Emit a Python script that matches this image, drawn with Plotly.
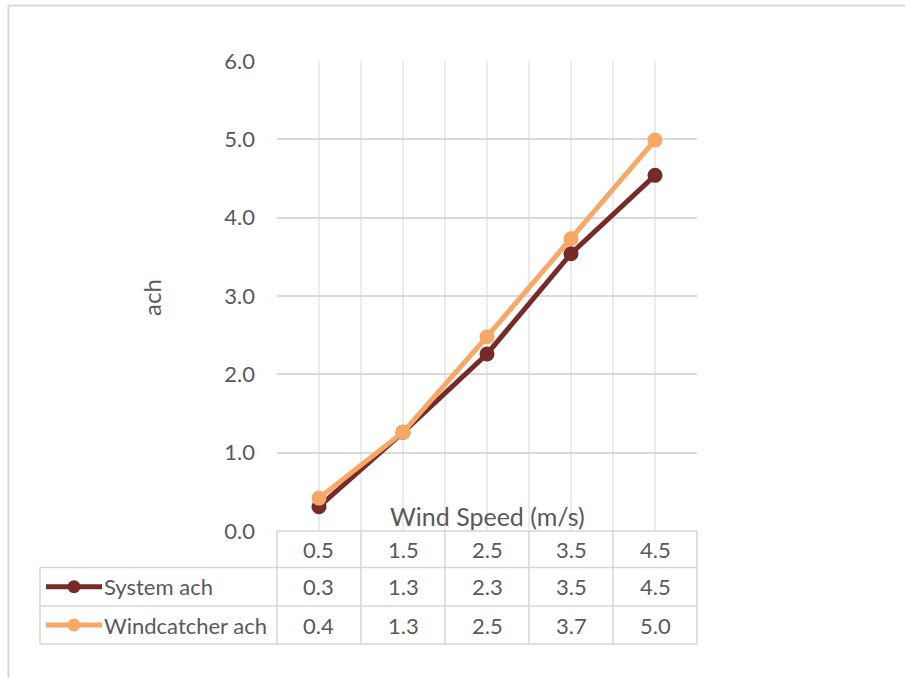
import plotly.graph_objects as go

# Data
wind_speeds = ["0.5", "1.5", "2.5", "3.5", "4.5"]
system_ach = [0.31, 1.26, 2.26, 3.54, 4.54]
windcatcher_ach = [0.42, 1.26, 2.48, 3.73, 4.99]
series_names = ["System ach", "Windcatcher ach"]
series_colors = ["#772b29", "#f8a866"]
y_ticks = [0, 1, 2, 3, 4, 5, 6]

W, H = 905, 678
FONT = "Lato, Carlito, 'Open Sans', sans-serif"
TXT = "#595959"
GRID_H = "#d9d9d9"
GRID_V = "#ebebeb"
TABLE = "#d6d6d6"
TEXT_SIZE = 22

# plot area in pixels
px_left, px_right = 277, 697
px_top, px_bottom = 61, 531

x_dom = [px_left / W, px_right / W]
y_dom = [1 - px_bottom / H, 1 - px_top / H]
x_range = [-0.5, len(wind_speeds) - 0.5]


def xp(v):
    """data x -> paper x"""
    f = (v - x_range[0]) / (x_range[1] - x_range[0])
    return x_dom[0] + f * (x_dom[1] - x_dom[0])


def yp(pix):
    """pixel row -> paper y"""
    return 1 - pix / H


def pxp(pix):
    """pixel column -> paper x"""
    return pix / W


def label(x, y, text, size=TEXT_SIZE, xanchor="center", angle=0):
    return dict(x=x, y=y, xref="paper", yref="paper", text=text,
                showarrow=False, xanchor=xanchor, yanchor="middle",
                textangle=angle,
                font=dict(family=FONT, size=size, color=TXT))


xs = list(range(len(wind_speeds)))
fig = go.Figure()
for name, vals, col in zip(series_names, [system_ach, windcatcher_ach], series_colors):
    fig.add_trace(go.Scatter(
        x=xs, y=vals, name=name, mode="lines+markers",
        line=dict(color=col, width=5),
        marker=dict(color=col, size=15),
        cliponaxis=False,
    ))

shapes = []
annotations = []

# chart frame (top and left edges)
shapes.append(dict(type="line", xref="paper", yref="paper",
                   x0=pxp(8.5), x1=1, y0=yp(5.5), y1=yp(5.5),
                   line=dict(color="#d9d9d9", width=2)))
shapes.append(dict(type="line", xref="paper", yref="paper",
                   x0=pxp(8.5), x1=pxp(8.5), y0=yp(5.5), y1=0,
                   line=dict(color="#d9d9d9", width=2)))

# data table grid
row_tops = [531, 567.5, 606, 644]
tbl_left = 40
lw = 1.5
shapes.append(dict(type="line", xref="paper", yref="paper",
                   x0=xp(x_range[0]), x1=xp(x_range[1]), y0=yp(row_tops[0]), y1=yp(row_tops[0]),
                   line=dict(color=TABLE, width=lw)))
for r in row_tops[1:]:
    shapes.append(dict(type="line", xref="paper", yref="paper",
                       x0=pxp(tbl_left), x1=xp(x_range[1]), y0=yp(r), y1=yp(r),
                       line=dict(color=TABLE, width=lw)))
for i in range(len(wind_speeds) + 1):
    xv = xp(i - 0.5)
    shapes.append(dict(type="line", xref="paper", yref="paper",
                       x0=xv, x1=xv, y0=yp(row_tops[0]), y1=yp(row_tops[-1]),
                       line=dict(color=TABLE, width=lw)))
shapes.append(dict(type="line", xref="paper", yref="paper",
                   x0=pxp(tbl_left), x1=pxp(tbl_left), y0=yp(row_tops[1]), y1=yp(row_tops[-1]),
                   line=dict(color=TABLE, width=lw)))

# header row: categories
hdr_y = (row_tops[0] + row_tops[1]) / 2
for i, lab in enumerate(wind_speeds):
    annotations.append(label(xp(i), yp(hdr_y), lab))

# series rows with legend keys
for k, (name, vals, col) in enumerate(zip(series_names, [system_ach, windcatcher_ach], series_colors)):
    cy = (row_tops[k + 1] + row_tops[k + 2]) / 2
    shapes.append(dict(type="line", xref="paper", yref="paper",
                       x0=pxp(46), x1=pxp(102), y0=yp(cy), y1=yp(cy),
                       line=dict(color=col, width=5)))
    shapes.append(dict(type="circle", xref="paper", yref="paper",
                       x0=pxp(74 - 6.5), x1=pxp(74 + 6.5), y0=yp(cy + 6.5), y1=yp(cy - 6.5),
                       fillcolor=col, line=dict(color=col, width=0)))
    annotations.append(label(pxp(102), yp(cy), name, xanchor="left"))
    for i, v in enumerate(vals):
        annotations.append(label(xp(i), yp(cy), f"{v:.1f}"))

# axis titles
annotations.append(label(xp(2), yp(516), "Wind Speed (m/s)", size=25))
annotations.append(label(pxp(151), yp(298), "ach", size=24, angle=-90))

fig.update_layout(
    width=W, height=H, autosize=False,
    margin=dict(l=0, r=0, t=0, b=0, pad=0, autoexpand=False),
    paper_bgcolor="white", plot_bgcolor="white",
    showlegend=False,
    shapes=shapes, annotations=annotations,
    xaxis=dict(domain=x_dom, range=x_range, tick0=-0.5, dtick=0.5,
               showgrid=True, gridcolor=GRID_V, gridwidth=1.5, automargin=False,
               showticklabels=False, zeroline=False, showline=False, ticks=""),
    yaxis=dict(domain=y_dom, range=[0, 6], tickvals=y_ticks,
               ticktext=[f"{t:.1f}" for t in y_ticks], automargin=False,
               showgrid=True, gridcolor=GRID_H, gridwidth=1.5,
               zeroline=False, showline=False, ticks="",
               ticklabelstandoff=21,
               tickfont=dict(family=FONT, size=TEXT_SIZE, color=TXT)),
)

fig.write_html("out.html")
